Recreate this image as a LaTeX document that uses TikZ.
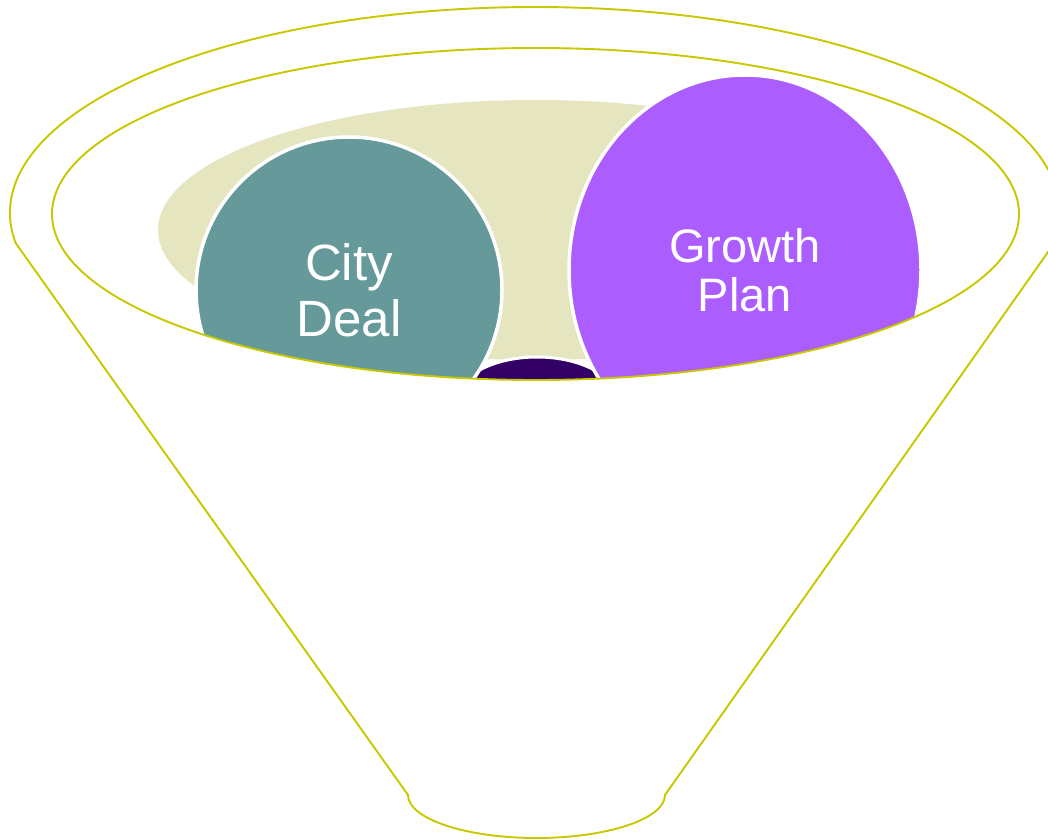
\documentclass[tikz,border=0pt]{standalone}
\usepackage{fontspec}
\setmainfont{Liberation Sans}
\usetikzlibrary{shapes.geometric}
\definecolor{funnelline}{HTML}{C8C800}
\definecolor{olive}{HTML}{E5E6BF}
\definecolor{teal}{HTML}{669999}
\definecolor{violet}{HTML}{AC5DFE}
\definecolor{deep}{HTML}{330066}
\tikzset{
  funnel/.style={draw=funnelline, line width=1.9pt},
  bubble/.style={ellipse, draw=white, line width=3.5pt, inner sep=0pt, text=white, align=center},
}
\begin{document}
\begin{tikzpicture}[x=1pt,y=1pt]
\useasboundingbox (0,0) rectangle (1048,839);
\clip (0,0) rectangle (1048,839);
% outer funnel
\draw[funnel, fill=white] (535,626) ++(188.37:525 and 206) coordinate (lc)
  arc[start angle=188.37, end angle=-8.37, x radius=525, y radius=206] coordinate (rc)
  -- (665,44) coordinate (br)
  arc[start angle=0, end angle=-180, x radius=128.5, y radius=43] coordinate (bl)
  -- cycle;
\begin{scope}
  \clip (535.5,625) ellipse [x radius=483.5, y radius=166];
  \fill[olive] (535,609) ellipse [x radius=377, y radius=130];
  \node[bubble, fill=deep, line width=3pt, minimum width=160pt, minimum height=86pt] (hub) at (537,439) {};
  \node[bubble, circle, fill=teal, minimum size=306pt, font=\fontsize{51}{56}\selectfont] (city) at (349,549) {City\\Deal};
  \node[bubble, fill=violet, minimum width=352pt, minimum height=390pt, font=\fontsize{47}{49}\selectfont] (growth) at (745,569) {Growth\\Plan};
\end{scope}
\draw[funnel] (535.5,625) ellipse [x radius=483.5, y radius=166];
\end{tikzpicture}
\end{document}
